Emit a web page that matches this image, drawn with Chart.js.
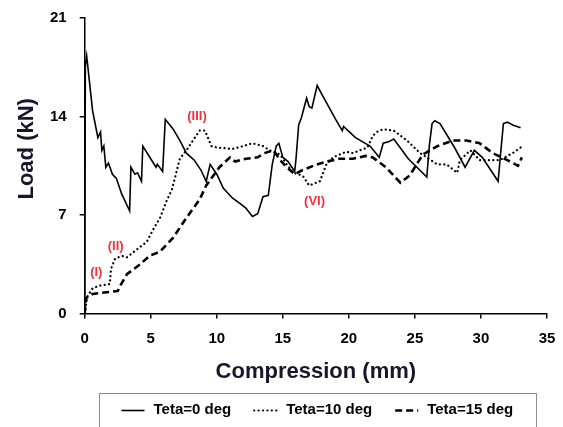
<!DOCTYPE html>
<html>
<head>
<meta charset="utf-8">
<script src="https://cdn.jsdelivr.net/npm/chart.js@4.4.1/dist/chart.umd.min.js"></script>
<style>
  html, body { margin: 0; padding: 0; background: #fff; }
  canvas { display: block; }
</style>
</head>
<body>
<canvas id="chart" width="563" height="427"></canvas>
<script>
// Teta = 0 deg (solid)
const teta0X = [0, 0.05, 0.15, 0.6, 1.0, 1.2, 1.3, 1.45, 1.6, 1.8,
  2.1, 2.4, 2.8, 3.3, 3.4, 3.5, 3.8, 4.0, 4.3, 4.4,
  5.0, 5.4, 5.5, 5.9, 6.1, 6.7, 7.2, 7.7, 8.3, 8.8,
  9.2, 9.5, 10.0, 10.5, 11.2, 11.8, 12.2, 12.7, 13.1, 13.5,
  13.9, 14.2, 14.5, 14.7, 15.0, 15.4, 15.9, 16.0, 16.2, 16.4,
  16.8, 17.0, 17.2, 17.6, 18.0, 19.0, 19.5, 19.6, 20.5, 21.6,
  22.3, 22.6, 23.0, 23.4, 24.5, 25.9, 26.1, 26.3, 26.5, 26.9,
  28.0, 28.8, 29.5, 30.1, 31.3, 31.5, 31.7, 32.0, 32.4, 33.0];
const teta0Y = [0, 17.6, 18.3, 14.4, 12.5, 12.9, 11.6, 11.9, 10.4, 10.7,
  9.9, 9.6, 8.5, 7.5, 7.3, 10.4, 9.9, 10.0, 9.4, 11.9,
  11.0, 10.4, 10.6, 10.1, 13.8, 13.1, 12.3, 11.4, 10.9, 10.2,
  9.4, 10.6, 9.9, 8.9, 8.2, 7.8, 7.5, 6.9, 7.1, 8.3,
  8.4, 10.6, 11.9, 12.1, 11.1, 10.8, 10.1, 11.0, 13.4, 13.9,
  15.3, 14.7, 14.6, 16.2, 15.5, 13.8, 13.0, 13.3, 12.5, 11.9,
  11.1, 12.1, 12.2, 12.4, 11.0, 9.7, 12.0, 13.5, 13.7, 13.5,
  11.8, 10.4, 11.6, 11.1, 9.4, 11.5, 13.5, 13.6, 13.4, 13.2];

// Teta = 10 deg (dotted)
const teta10X = [0, 0.2, 0.6, 1.2, 1.9, 2.0, 2.3, 2.8, 3.2, 3.6,
  4.7, 5.2, 5.7, 6.2, 6.6, 7.2, 7.7, 8.2, 8.7, 9.1,
  9.6, 10.0, 11.2, 12.0, 12.7, 13.5, 14.0, 14.8, 15.3, 15.8,
  16.5, 17.0, 17.8, 18.3, 18.8, 19.8, 20.3, 21.4, 21.8, 22.1,
  22.6, 23.4, 24.4, 25.4, 26.7, 27.4, 28.2, 28.4, 29.2, 29.9,
  30.9, 31.4, 32.4, 33.0];
const teta10Y = [0, 1.2, 1.8, 2.0, 2.1, 3.2, 3.9, 4.1, 4.0, 4.3,
  5.1, 6.0, 6.8, 8.0, 8.8, 11.0, 11.6, 12.3, 13.0, 13.0,
  11.9, 11.8, 11.7, 11.9, 12.1, 11.9, 11.6, 11.3, 10.6, 10.0,
  9.8, 9.1, 9.4, 10.6, 11.1, 11.5, 11.4, 11.8, 12.6, 12.9,
  13.1, 13.0, 12.3, 11.4, 10.6, 10.6, 10.0, 10.9, 11.6, 10.9,
  10.9, 10.9, 11.4, 11.8];

// Teta = 15 deg (dashed)
const teta15X = [0, 0.1, 0.6, 1.5, 2.5, 2.7, 3.2, 4.2, 4.9, 5.7,
  6.7, 7.7, 8.7, 9.2, 10.2, 11.0, 11.4, 12.2, 13.1, 13.6,
  14.3, 14.8, 15.3, 15.9, 16.5, 17.3, 18.3, 19.3, 20.3, 21.3,
  21.8, 22.8, 23.9, 24.6, 25.6, 26.7, 27.9, 28.9, 29.9, 30.9,
  32.0, 32.8, 33.1];
const teta15Y = [0, 1.1, 1.4, 1.5, 1.6, 2.0, 2.8, 3.5, 4.1, 4.4,
  5.4, 6.8, 8.1, 9.1, 10.4, 11.1, 10.8, 11.0, 11.1, 11.4,
  11.6, 10.9, 10.4, 9.9, 10.2, 10.5, 10.8, 11.0, 11.0, 11.2,
  11.1, 10.4, 9.3, 9.8, 11.3, 11.9, 12.3, 12.3, 12.1, 11.4,
  10.9, 10.5, 11.1];

const seriesNames = ['Teta=0 deg', 'Teta=10 deg', 'Teta=15 deg'];

// stage labels (placed in data units)
const stageText = ['(I)', '(II)', '(III)', '(VI)'];
const stageX = [0.88, 2.35, 8.5, 17.4];
const stageY = [2.9, 4.8, 14.0, 8.0];

const FONT = '"Liberation Sans", Arial, sans-serif';

function toPoints(xs, ys) {
  return xs.map((x, i) => ({ x: x, y: ys[i] }));
}

const extras = {
  id: 'extras',
  afterDraw(chart) {
    const ctx = chart.ctx;
    const xs = chart.scales.x, ys = chart.scales.y;
    const area = chart.chartArea;
    ctx.save();

    // stage labels
    ctx.fillStyle = '#f3303c';
    ctx.font = 'bold 13px ' + FONT;
    ctx.textAlign = 'center';
    ctx.textBaseline = 'middle';
    stageText.forEach((t, i) => {
      ctx.fillText(t, xs.getPixelForValue(stageX[i]), ys.getPixelForValue(stageY[i]));
    });

    // y axis title, sits a bit above the middle like the original
    ctx.save();
    ctx.translate(area.left - 58, (area.top + area.bottom) / 2 - 17);
    ctx.rotate(-Math.PI / 2);
    ctx.fillStyle = '#16162c';
    ctx.font = 'bold 22px ' + FONT;
    ctx.fillText('Load (kN)', 0, 0);
    ctx.restore();

    // legend samples + frame
    const lg = chart.legend;
    if (lg && lg.legendHitBoxes.length) {
      const boxes = lg.legendHitBoxes;
      boxes.forEach((b, i) => {
        const ds = chart.data.datasets[i];
        const y = Math.round(b.top + b.height / 2) + 0.5;
        ctx.beginPath();
        ctx.setLineDash(ds.borderDash || []);
        ctx.lineCap = ds.borderCapStyle || 'butt';
        ctx.lineWidth = ds.borderWidth;
        ctx.strokeStyle = ds.borderColor;
        ctx.moveTo(b.left + 3, y);
        ctx.lineTo(b.left + 26, y);
        ctx.stroke();
      });
      ctx.setLineDash([]);
      const left = Math.min(...boxes.map(b => b.left)) - 20;
      const right = Math.max(...boxes.map(b => b.left + b.width)) + 22;
      const top = boxes[0].top - 9;
      ctx.strokeStyle = '#8c8c8c';
      ctx.lineWidth = 1;
      ctx.strokeRect(Math.round(left) + 0.5, Math.round(top) + 0.5, Math.round(right - left), chart.height - top + 10);
    }
    ctx.restore();
  }
};

const tickFont = { family: FONT, size: 15, weight: 'bold' };

new Chart(document.getElementById('chart').getContext('2d'), {
  type: 'scatter',
  data: {
    datasets: [
      {
        label: seriesNames[0],
        data: toPoints(teta0X, teta0Y),
        showLine: true,
        borderColor: '#000',
        backgroundColor: '#000',
        borderWidth: 1.6,
        pointRadius: 0,
        tension: 0
      },
      {
        label: seriesNames[1],
        data: toPoints(teta10X, teta10Y),
        showLine: true,
        borderColor: '#000',
        backgroundColor: '#000',
        borderWidth: 2.2,
        borderDash: [0.1, 4.3],
        borderCapStyle: 'round',
        pointRadius: 0,
        tension: 0
      },
      {
        label: seriesNames[2],
        data: toPoints(teta15X, teta15Y),
        showLine: true,
        borderColor: '#000',
        backgroundColor: '#000',
        borderWidth: 2.6,
        borderDash: [7, 4],
        pointRadius: 0,
        tension: 0
      }
    ]
  },
  options: {
    responsive: false,
    animation: false,
    layout: { padding: { left: 37, right: 16, top: 18, bottom: 0 } },
    scales: {
      x: {
        type: 'linear',
        min: 0,
        max: 35,
        ticks: { stepSize: 5, color: '#000', font: tickFont, padding: 11, maxRotation: 0 },
        grid: { display: true, drawOnChartArea: false, drawTicks: true, tickLength: 5, color: '#000', lineWidth: 1.5 },
        border: { display: true, color: '#000', width: 1.5 },
        title: {
          display: true,
          text: 'Compression (mm)',
          color: '#16162c',
          font: { family: FONT, size: 22, weight: 'bold' },
          padding: { top: 0, bottom: -3 }
        },
        afterFit(scale) { scale.paddingRight = 0; }
      },
      y: {
        min: 0,
        max: 21,
        ticks: { stepSize: 7, color: '#000', font: tickFont, padding: 13 },
        grid: { display: true, drawOnChartArea: false, drawTicks: true, tickLength: 5, color: '#000', lineWidth: 1.5 },
        border: { display: true, color: '#000', width: 1.5 },
        afterFit(scale) { scale.paddingTop = 0; }
      }
    },
    plugins: {
      legend: {
        position: 'bottom',
        fullSize: false,
        labels: {
          usePointStyle: true,
          pointStyle: 'line',
          pointStyleWidth: 27.5,
          padding: 20,
          color: '#000',
          font: { family: FONT, size: 15, weight: 'bold' },
          generateLabels(chart) {
            const items = Chart.defaults.plugins.legend.labels.generateLabels(chart);
            items.forEach(it => {
              it.strokeStyle = 'rgba(0,0,0,0)';
              it.fillStyle = 'rgba(0,0,0,0)';
              it.lineWidth = 0;
            });
            return items;
          }
        }
      },
      tooltip: { enabled: false }
    }
  },
  plugins: [extras]
});
</script>
</body>
</html>
